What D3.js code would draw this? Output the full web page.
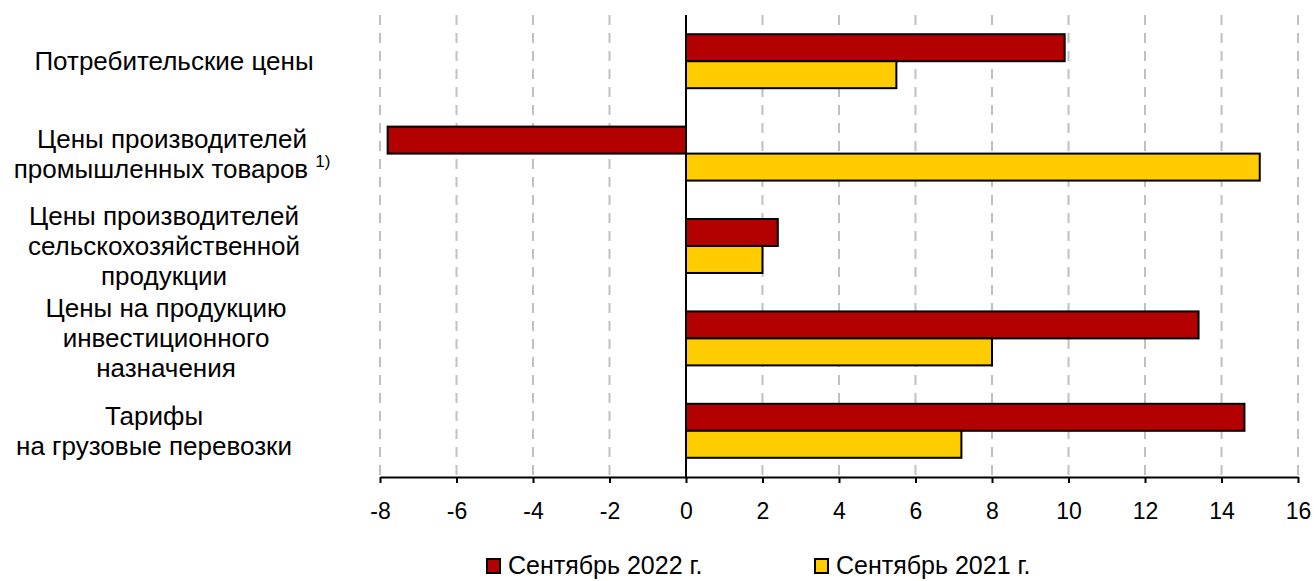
<!DOCTYPE html>
<html lang="ru">
<head>
<meta charset="UTF-8">
<title>Индексы цен</title>
<style>
  body { margin: 0; background: #fff; }
  text { font-family: "Liberation Sans", Arial, sans-serif; fill: #000; }
  .grid line { stroke: #c0c0c0; stroke-width: 2px; stroke-dasharray: 10 8; }
</style>
</head>
<body>
<script src="https://d3js.org/d3.v7.min.js"></script>
<script>
var width = 1315, height = 581;

// data
var categories = [
  ["Потребительские цены"],
  ["Цены производителей", "промышленных товаров"],
  ["Цены производителей", "сельскохозяйственной", "продукции"],
  ["Цены на продукцию", "инвестиционного", "назначения"],
  ["Тарифы", "на грузовые перевозки"]
];
var series2022 = [9.9, -7.8, 2.4, 13.4, 14.6];
var series2021 = [5.5, 15.0, 2.0, 8.0, 7.2];
var seriesNames = ["Сентябрь 2022 г.", "Сентябрь 2021 г."];
var xTicks = [-8, -6, -4, -2, 0, 2, 4, 6, 8, 10, 12, 14, 16];

var colors = ["#b30000", "#ffcc00"];
var labelX = [174, 172, 164, 166, 154];
var margin = { left: 380, right: 17, top: 15, bottom: 104 };

var svg = d3.select("body").append("svg")
  .attr("width", width).attr("height", height);

var x = d3.scaleLinear().domain([-8, 16]).range([margin.left, width - margin.right]);
var y = d3.scaleBand().domain(d3.range(categories.length))
  .range([margin.top, height - margin.bottom]).paddingInner(0.416).paddingOuter(0.208);

// gridlines
svg.append("g").attr("class", "grid")
  .selectAll("line").data(xTicks.filter(function(d) { return d !== 0; }))
  .enter().append("line")
  .attr("x1", function(d) { return x(d); }).attr("x2", function(d) { return x(d); })
  .attr("y1", margin.top).attr("y2", height - margin.bottom);

// bars
var bh = y.bandwidth() / 2;
[series2022, series2021].forEach(function(s, k) {
  svg.append("g").selectAll("rect").data(s).enter().append("rect")
    .attr("x", function(d) { return x(Math.min(0, d)); })
    .attr("width", function(d) { return Math.abs(x(d) - x(0)); })
    .attr("y", function(d, i) { return y(i) + k * bh; })
    .attr("height", bh)
    .attr("fill", colors[k])
    .attr("stroke", "#000").attr("stroke-width", 2);
});

// zero line
svg.append("line")
  .attr("x1", x(0)).attr("x2", x(0))
  .attr("y1", margin.top).attr("y2", height - margin.bottom)
  .attr("stroke", "#000").attr("stroke-width", 2);

// x axis
var axis = svg.append("g")
  .attr("transform", "translate(0," + (height - margin.bottom) + ")")
  .call(d3.axisBottom(x).tickValues(xTicks).tickSize(6).tickSizeOuter(0).tickPadding(20)
    .tickFormat(function(d) { return String(d); }));
axis.select(".domain").attr("stroke", "#000").attr("stroke-width", 2);
axis.selectAll(".tick line").attr("stroke", "#000").attr("stroke-width", 2);
axis.selectAll(".tick text").style("font-size", "23px")
  .style("font-family", "'Liberation Sans', Arial, sans-serif");

// category labels
var lh = 30;
categories.forEach(function(lines, i) {
  var cy = y(i) + y.bandwidth() / 2;
  var t = svg.append("text")
    .attr("text-anchor", "middle")
    .style("font-size", "26px");
  lines.forEach(function(l, j) {
    t.append("tspan")
      .attr("x", labelX[i])
      .attr("y", cy + (j - (lines.length - 1) / 2) * lh + 9)
      .text(l);
  });
  if (i === 1) {
    t.append("tspan").attr("dx", 7).attr("dy", -11)
      .style("font-size", "17px").text("1)");
  }
});

// legend
var legX = [487, 815];
seriesNames.forEach(function(n, k) {
  var g = svg.append("g").attr("transform", "translate(" + legX[k] + ",559)");
  g.append("rect").attr("width", 13).attr("height", 14)
    .attr("fill", colors[k]).attr("stroke", "#000").attr("stroke-width", 2);
  g.append("text").attr("x", 21).attr("y", 15)
    .style("font-size", "25px").text(n);
});
</script>
</body>
</html>
